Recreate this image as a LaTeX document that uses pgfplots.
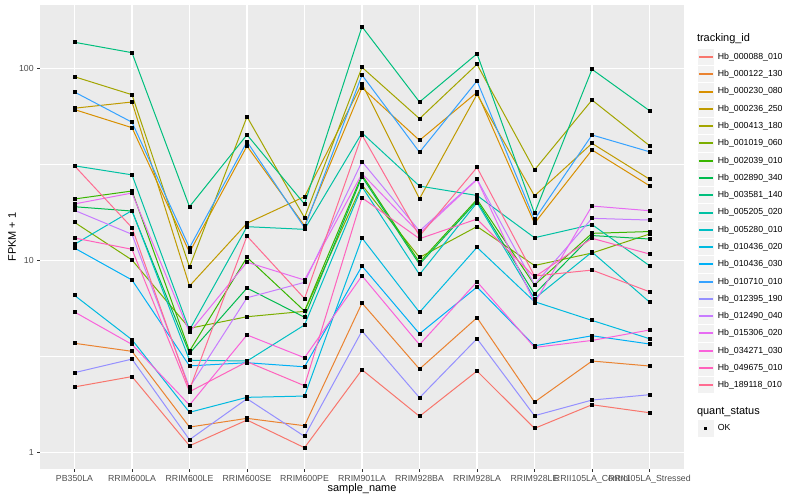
\documentclass[border=0pt]{standalone}
\usepackage{fontspec}
\setmainfont{Liberation Sans}
\usepackage{pgfplots}
\pgfplotsset{compat=1.18}
\usepackage{pgfplotstable}

\definecolor{panelbg}{HTML}{EBEBEB}
\definecolor{keybg}{HTML}{F2F2F2}
\definecolor{tickgrey}{HTML}{4D4D4D}
\definecolor{c1}{HTML}{F8766D}
\definecolor{c2}{HTML}{EA8331}
\definecolor{c3}{HTML}{D89000}
\definecolor{c4}{HTML}{C09B00}
\definecolor{c5}{HTML}{A3A500}
\definecolor{c6}{HTML}{7CAE00}
\definecolor{c7}{HTML}{39B600}
\definecolor{c8}{HTML}{00BB4E}
\definecolor{c9}{HTML}{00BF7D}
\definecolor{c10}{HTML}{00C1A3}
\definecolor{c11}{HTML}{00BFC4}
\definecolor{c12}{HTML}{00BAE0}
\definecolor{c13}{HTML}{00B0F6}
\definecolor{c14}{HTML}{35A2FF}
\definecolor{c15}{HTML}{9590FF}
\definecolor{c16}{HTML}{C77CFF}
\definecolor{c17}{HTML}{E76BF3}
\definecolor{c18}{HTML}{FA62DB}
\definecolor{c19}{HTML}{FF62BC}
\definecolor{c20}{HTML}{FF6C91}

% FPKM + 1 per sample (x = sample index 0..10)
\pgfplotstableread{
x s1 s2 s3 s4 s5 s6 s7 s8 s9 s10 s11 s12 s13 s14 s15 s16 s17 s18 s19 s20
0 2.20 3.71 61.0 62.0 90.4 15.8 20.9 19.05 136.6 31.1 12.14 6.59 11.61 75.3 2.61 18.25 19.7 5.40 13.1 31.1
1 2.49 3.37 49.1 66.8 72.9 10.06 23.0 18.09 120.6 27.9 18.2 3.87 7.92 52.4 3.07 13.69 22.45 3.66 11.44 14.82
2 1.087 1.36 11.03 7.37 9.25 4.44 3.38 3.29 19.05 4.35 3.03 1.623 2.83 11.66 1.169 2.19 4.23 1.771 2.077 2.132
3 1.48 1.51 39.4 15.62 56.0 5.10 10.39 7.19 45.1 15.0 3.00 1.942 2.94 41.5 1.91 6.40 9.8 4.10 2.975 13.41
4 1.062 1.382 15.18 21.5 16.70 5.44 5.46 5.07 19.68 14.53 4.62 1.972 2.80 14.82 1.217 7.70 7.92 3.12 2.232 6.34
5 2.703 6.01 79.3 83.2 101.2 24.7 27.9 27.3 164.6 46.1 24.2 13.1 9.36 92.3 4.30 32.7 28.3 8.33 21.2 45.0
6 1.547 2.726 42.2 20.97 54.7 10.37 9.79 9.55 66.8 24.4 8.46 5.38 4.16 36.6 1.933 14.24 13.85 3.65 12.99 13.41
7 2.661 5.04 75.0 73.2 104.9 15.03 20.8 20.4 119.1 21.8 20.0 11.71 7.28 85.9 3.92 26.5 26.4 7.76 16.44 30.5
8 1.339 1.835 15.62 21.7 29.6 9.42 7.46 6.69 17.6 13.14 6.34 6.11 3.60 16.35 1.558 7.50 6.01 3.53 8.21 8.31
9 1.777 3.00 37.6 40.7 68.4 10.94 13.85 13.49 98.8 15.39 11.07 4.88 4.06 45.0 1.88 16.58 19.21 3.84 13.05 8.92
10 1.615 2.826 24.5 26.5 39.6 13.73 14.15 12.94 60.2 9.40 6.08 3.92 3.68 36.8 2.004 16.24 18.16 4.35 10.81 6.88
}\fpkm

\begin{document}
\begin{tikzpicture}
\path[use as bounding box] (0bp,0bp) rectangle (800bp,500bp);
\begin{axis}[
    at={(40bp,31bp)}, anchor=south west,
    width=644bp, height=464bp, scale only axis,
    ymode=log,
    xmin=-0.6, xmax=10.6,
    ymin=0.823, ymax=213.5,
    axis background/.style={fill=panelbg},
    axis line style={draw=none},
    xtick={0,...,10},
    xticklabels={PB350LA,RRIM600LA,RRIM600LE,RRIM600SE,RRIM600PE,RRIM901LA,RRIM928BA,RRIM928LA,RRIM928LE,RRII105LA\_Control,RRII105LA\_Stressed},
    ytick={1,10,100},
    yticklabels={1,10,100},
    minor ytick={3.1623,31.623},
    xmajorgrids, ymajorgrids, yminorgrids,
    major grid style={white, line width=1.07bp},
    minor grid style={white, line width=0.53bp},
    tick pos=left, tick align=outside,
    major tick length=2.75bp, minor tick length=0pt,
    tick style={color=black!80, line width=0.53bp},
    /pgf/number format/assume math mode=true,
    ticklabel style={font=\fontsize{8.8}{10}\selectfont, text=tickgrey},
    xlabel={sample\_name},
    ylabel={FPKM + 1},
    label style={font=\fontsize{11}{13}\selectfont},
    xlabel style={at={(axis description cs:0.5,-0.042)}, anchor=center},
    ylabel style={at={(axis description cs:-0.0435,0.5)}, anchor=center},
    legend image code/.code={
        \path[draw=none, fill=none] (0bp,-8.64bp) rectangle (17.28bp,8.64bp);
        \fill[keybg, draw=none] (0.5bp,-8.14bp) rectangle (16.78bp,8.14bp);
        \draw[line width=2bp] (1.73bp,0bp) -- (15.55bp,0bp);
    },
    legend style={at={(axis description cs:1.0202,0.9512)}, anchor=north west,
        draw=none, fill=none, inner sep=0pt, outer sep=0pt,
        row sep=0pt, column sep=3.5bp,
        nodes={inner sep=0pt, outer sep=0pt, text=black},
        font=\fontsize{8.8}{10}\selectfont},
    legend cell align=left,
    every axis plot/.append style={line width=1bp},
]
\addlegendimage{legend image code/.code={
    \path[draw=none, fill=none] (0bp,-10.36bp) rectangle (17.28bp,10.36bp);
    \node[overlay, draw=none, fill=none, text=black, anchor=west, inner sep=0pt, font=\fontsize{11}{13}\selectfont] at (0bp,0bp) {tracking\_id};}}
\addlegendentry{}

\addplot[c1] table[x=x,y=s1]{\fpkm}; \addlegendentry{Hb\_000088\_010}
\addplot[c2] table[x=x,y=s2]{\fpkm}; \addlegendentry{Hb\_000122\_130}
\addplot[c3] table[x=x,y=s3]{\fpkm}; \addlegendentry{Hb\_000230\_080}
\addplot[c4] table[x=x,y=s4]{\fpkm}; \addlegendentry{Hb\_000236\_250}
\addplot[c5] table[x=x,y=s5]{\fpkm}; \addlegendentry{Hb\_000413\_180}
\addplot[c6] table[x=x,y=s6]{\fpkm}; \addlegendentry{Hb\_001019\_060}
\addplot[c7] table[x=x,y=s7]{\fpkm}; \addlegendentry{Hb\_002039\_010}
\addplot[c8] table[x=x,y=s8]{\fpkm}; \addlegendentry{Hb\_002890\_340}
\addplot[c9] table[x=x,y=s9]{\fpkm}; \addlegendentry{Hb\_003581\_140}
\addplot[c10] table[x=x,y=s10]{\fpkm}; \addlegendentry{Hb\_005205\_020}
\addplot[c11] table[x=x,y=s11]{\fpkm}; \addlegendentry{Hb\_005280\_010}
\addplot[c12] table[x=x,y=s12]{\fpkm}; \addlegendentry{Hb\_010436\_020}
\addplot[c13] table[x=x,y=s13]{\fpkm}; \addlegendentry{Hb\_010436\_030}
\addplot[c14] table[x=x,y=s14]{\fpkm}; \addlegendentry{Hb\_010710\_010}
\addplot[c15] table[x=x,y=s15]{\fpkm}; \addlegendentry{Hb\_012395\_190}
\addplot[c16] table[x=x,y=s16]{\fpkm}; \addlegendentry{Hb\_012490\_040}
\addplot[c17] table[x=x,y=s17]{\fpkm}; \addlegendentry{Hb\_015306\_020}
\addplot[c18] table[x=x,y=s18]{\fpkm}; \addlegendentry{Hb\_034271\_030}
\addplot[c19] table[x=x,y=s19]{\fpkm}; \addlegendentry{Hb\_049675\_010}
\addplot[c20] table[x=x,y=s20]{\fpkm}; \addlegendentry{Hb\_189118\_010}

% points on top of all lines
\pgfplotsinvokeforeach{1,...,20}{
  \addplot[only marks, mark=square*, mark size=1.5bp, black, forget plot] table[x=x,y=s#1]{\fpkm};
}

\addlegendimage{legend image code/.code={
    \path[draw=none, fill=none] (0bp,-7.7bp) rectangle (17.28bp,18.06bp);
    \node[overlay, draw=none, fill=none, text=black, anchor=west, inner sep=0pt, font=\fontsize{11}{13}\selectfont] at (0bp,0bp) {quant\_status};}}
\addlegendentry{}
\addlegendimage{legend image code/.code={
    \path[draw=none, fill=none] (0bp,-8.64bp) rectangle (17.28bp,8.64bp);
    \fill[keybg, draw=none] (0.5bp,-8.14bp) rectangle (16.78bp,8.14bp);
    \fill[black, draw=none] (7.04bp,-1.6bp) rectangle (10.24bp,1.6bp);}}
\addlegendentry{OK}
\end{axis}
\end{tikzpicture}
\end{document}
